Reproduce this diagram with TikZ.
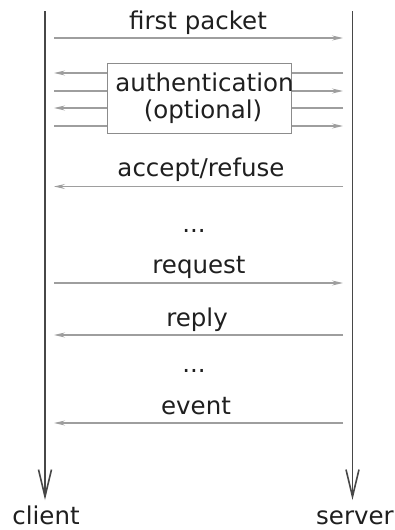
\documentclass[tikz,border=0pt]{standalone}
\usepackage{fontspec}
\setmainfont{DejaVu Sans}
\usetikzlibrary{arrows.meta}
\begin{document}
\begin{tikzpicture}[x=1pt,y=-1pt,
  life/.style={draw=black!72, line width=1.6pt, -{Straight Barb[length=27pt,width=13pt]}},
  msg/.style={draw=black!38, line width=1.2pt, -{Stealth[length=11pt,width=5pt,inset=4pt]}},
  lbl/.style={font=\fontsize{24.5}{27}\selectfont, text=black!88, anchor=base, inner sep=0pt},
  authbox/.style={draw=black!45, line width=1pt, fill=white, minimum width=184pt, minimum height=70pt, inner sep=0pt},
]
\useasboundingbox (0,0) rectangle (395,530);
% lifelines
\coordinate (ctop) at (45,11);
\coordinate (cbot) at (45,500);
\coordinate (stop) at (352.5,11);
\coordinate (sbot) at (352.5,500);
\draw[life] (ctop) -- (cbot);
\draw[life] (stop) -- (sbot);
\node[lbl] (client) at (46,524) {client};
\node[lbl] (server) at (355,524) {server};
% message endpoints
\foreach \n/\y in {fp/38, a1/73, a2/91, a3/108, a4/126, ar/186.5, rq/283, rp/335, ev/423}{
  \coordinate (c\n) at (54,\y);
  \coordinate (s\n) at (343,\y);
}
% first packet
\draw[msg] (cfp) -- (sfp);
\node[lbl] (tfp) at (198,29) {first packet};
% authentication
\draw[msg] (sa1) -- (ca1);
\draw[msg] (ca2) -- (sa2);
\draw[msg] (sa3) -- (ca3);
\draw[msg] (ca4) -- (sa4);
\node[authbox] (auth) at (199,98) {};
\node[lbl] (tauth1) at (204.5,91) {authentication};
\node[lbl] (tauth2) at (203,118) {(optional)};
% accept/refuse
\draw[msg] (sar) -- (car);
\node[lbl] (tar) at (201,176) {accept/refuse};
\node[lbl] (dots1) at (194,232) {...};
% request
\draw[msg] (crq) -- (srq);
\node[lbl] (trq) at (199,273) {request};
% reply
\draw[msg] (srp) -- (crp);
\node[lbl] (trp) at (197,326) {reply};
\node[lbl] (dots2) at (194,372) {...};
% event
\draw[msg] (sev) -- (cev);
\node[lbl] (tev) at (196,414) {event};
\end{tikzpicture}
\end{document}
